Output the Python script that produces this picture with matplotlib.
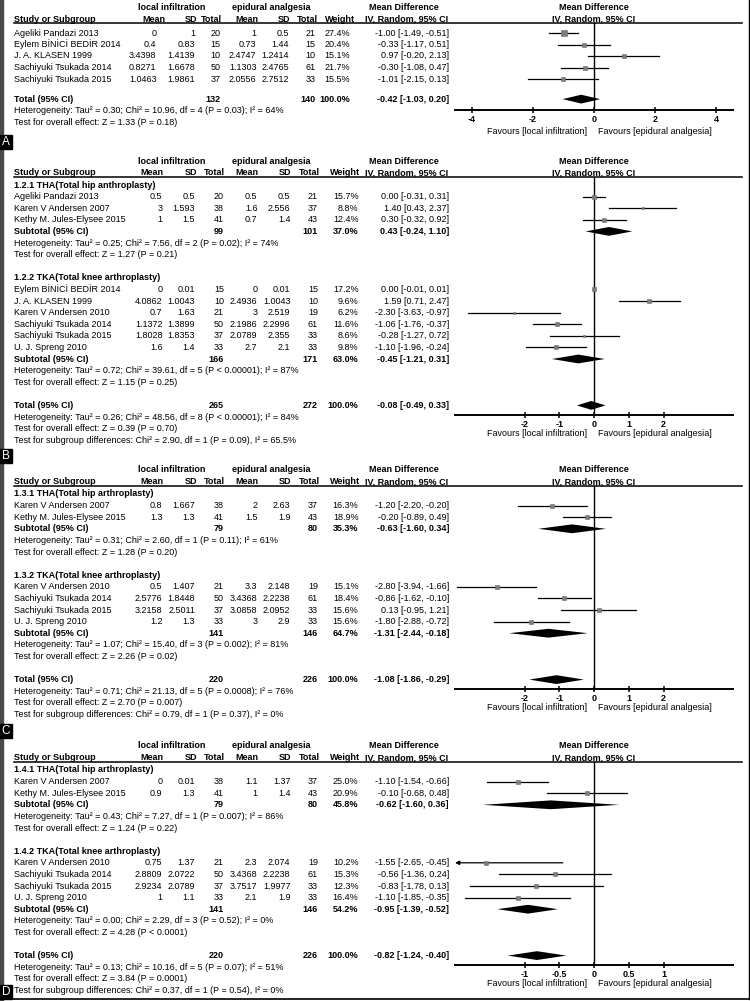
import numpy as np
import matplotlib
matplotlib.use("Agg")
import matplotlib.pyplot as plt
from matplotlib.patches import Polygon, Rectangle

plt.rcParams['font.family'] = ['Liberation Sans', 'DejaVu Sans']
plt.rcParams['axes.unicode_minus'] = False

W, H = 750, 1001
FS = 6.5

# ---------------- data ----------------
# panel A
a_names = ["Ageliki Pandazi 2013", "Eylem BİNİCİ BEDİR 2014", "J. A. KLASEN 1999",
           "Sachiyuki Tsukada 2014", "Sachiyuki Tsukada 2015"]
a_m1 = [0, 0.4, 3.4398, 0.8271, 1.0463]
a_sd1 = [1, 0.83, 1.4139, 1.6678, 1.9861]
a_n1 = [20, 15, 10, 50, 37]
a_m2 = [1, 0.73, 2.4747, 1.1303, 2.0556]
a_sd2 = [0.5, 1.44, 1.2414, 2.4765, 2.7512]
a_n2 = [21, 15, 10, 61, 33]
a_wt = [27.4, 20.4, 15.1, 21.7, 15.5]
a_md = [-1.00, -0.33, 0.97, -0.30, -1.01]
a_lo = [-1.49, -1.17, -0.20, -1.08, -2.15]
a_hi = [-0.51, 0.51, 2.13, 0.47, 0.13]
a_tot = [132, 140, -0.42, -1.03, 0.20]
a_tot_txt = ["Heterogeneity: Tau² = 0.30; Chi² = 10.96, df = 4 (P = 0.03); I² = 64%",
             "Test for overall effect: Z = 1.33 (P = 0.18)"]

# panel B
b_names = ["Ageliki Pandazi 2013", "Karen V Andersen 2007", "Kethy M. Jules-Elysee 2015",
           "Eylem BİNİCİ BEDİR 2014", "J. A. KLASEN 1999", "Karen V Andersen 2010",
           "Sachiyuki Tsukada 2014", "Sachiyuki Tsukada 2015", "U. J. Spreng 2010"]
b_grp = [0, 0, 0, 1, 1, 1, 1, 1, 1]
b_m1 = [0.5, 3, 1, 0, 4.0862, 0.7, 1.1372, 1.8028, 1.6]
b_sd1 = [0.5, 1.593, 1.5, 0.01, 1.0043, 1.63, 1.3899, 1.8353, 1.4]
b_n1 = [20, 38, 41, 15, 10, 21, 50, 37, 33]
b_m2 = [0.5, 1.6, 0.7, 0, 2.4936, 3, 2.1986, 2.0789, 2.7]
b_sd2 = [0.5, 2.556, 1.4, 0.01, 1.0043, 2.519, 2.2996, 2.355, 2.1]
b_n2 = [21, 37, 43, 15, 10, 19, 61, 33, 33]
b_wt = [15.7, 8.8, 12.4, 17.2, 9.6, 6.2, 11.6, 8.6, 9.8]
b_md = [0.00, 1.40, 0.30, 0.00, 1.59, -2.30, -1.06, -0.28, -1.10]
b_lo = [-0.31, 0.43, -0.32, -0.01, 0.71, -3.63, -1.76, -1.27, -1.96]
b_hi = [0.31, 2.37, 0.92, 0.01, 2.47, -0.97, -0.37, 0.72, -0.24]
b_sub_title = ["1.2.1 THA(Total hip anthroplasty)", "1.2.2 TKA(Total knee arthroplasty)"]
b_sub_n1 = [99, 166]
b_sub_n2 = [101, 171]
b_sub_wt = [37.0, 63.0]
b_sub_md = [0.43, -0.45]
b_sub_lo = [-0.24, -1.21]
b_sub_hi = [1.10, 0.31]
b_sub_het = ["Heterogeneity: Tau² = 0.25; Chi² = 7.56, df = 2 (P = 0.02); I² = 74%",
             "Heterogeneity: Tau² = 0.72; Chi² = 39.61, df = 5 (P < 0.00001); I² = 87%"]
b_sub_z = ["Test for overall effect: Z = 1.27 (P = 0.21)",
           "Test for overall effect: Z = 1.15 (P = 0.25)"]
b_tot = [265, 272, -0.08, -0.49, 0.33]
b_tot_txt = ["Heterogeneity: Tau² = 0.26; Chi² = 48.56, df = 8 (P < 0.00001); I² = 84%",
             "Test for overall effect: Z = 0.39 (P = 0.70)",
             "Test for subgroup differences: Chi² = 2.90, df = 1 (P = 0.09), I² = 65.5%"]

# panel C
c_names = ["Karen V Andersen 2007", "Kethy M. Jules-Elysee 2015", "Karen V Andersen 2010",
           "Sachiyuki Tsukada 2014", "Sachiyuki Tsukada 2015", "U. J. Spreng 2010"]
c_grp = [0, 0, 1, 1, 1, 1]
c_m1 = [0.8, 1.3, 0.5, 2.5776, 3.2158, 1.2]
c_sd1 = [1.667, 1.3, 1.407, 1.8448, 2.5011, 1.3]
c_n1 = [38, 41, 21, 50, 37, 33]
c_m2 = [2, 1.5, 3.3, 3.4368, 3.0858, 3]
c_sd2 = [2.63, 1.9, 2.148, 2.2238, 2.0952, 2.9]
c_n2 = [37, 43, 19, 61, 33, 33]
c_wt = [16.3, 18.9, 15.1, 18.4, 15.6, 15.6]
c_md = [-1.20, -0.20, -2.80, -0.86, 0.13, -1.80]
c_lo = [-2.20, -0.89, -3.94, -1.62, -0.95, -2.88]
c_hi = [-0.20, 0.49, -1.66, -0.10, 1.21, -0.72]
c_sub_title = ["1.3.1 THA(Total hip arthroplasty)", "1.3.2 TKA(Total knee arthroplasty)"]
c_sub_n1 = [79, 141]
c_sub_n2 = [80, 146]
c_sub_wt = [35.3, 64.7]
c_sub_md = [-0.63, -1.31]
c_sub_lo = [-1.60, -2.44]
c_sub_hi = [0.34, -0.18]
c_sub_het = ["Heterogeneity: Tau² = 0.31; Chi² = 2.60, df = 1 (P = 0.11); I² = 61%",
             "Heterogeneity: Tau² = 1.07; Chi² = 15.40, df = 3 (P = 0.002); I² = 81%"]
c_sub_z = ["Test for overall effect: Z = 1.28 (P = 0.20)",
           "Test for overall effect: Z = 2.26 (P = 0.02)"]
c_tot = [220, 226, -1.08, -1.86, -0.29]
c_tot_txt = ["Heterogeneity: Tau² = 0.71; Chi² = 21.13, df = 5 (P = 0.0008); I² = 76%",
             "Test for overall effect: Z = 2.70 (P = 0.007)",
             "Test for subgroup differences: Chi² = 0.79, df = 1 (P = 0.37), I² = 0%"]

# panel D
d_names = ["Karen V Andersen 2007", "Kethy M. Jules-Elysee 2015", "Karen V Andersen 2010",
           "Sachiyuki Tsukada 2014", "Sachiyuki Tsukada 2015", "U. J. Spreng 2010"]
d_grp = [0, 0, 1, 1, 1, 1]
d_m1 = [0, 0.9, 0.75, 2.8809, 2.9234, 1]
d_sd1 = [0.01, 1.3, 1.37, 2.0722, 2.0789, 1.1]
d_n1 = [38, 41, 21, 50, 37, 33]
d_m2 = [1.1, 1, 2.3, 3.4368, 3.7517, 2.1]
d_sd2 = [1.37, 1.4, 2.074, 2.2238, 1.9977, 1.9]
d_n2 = [37, 43, 19, 61, 33, 33]
d_wt = [25.0, 20.9, 10.2, 15.3, 12.3, 16.4]
d_md = [-1.10, -0.10, -1.55, -0.56, -0.83, -1.10]
d_lo = [-1.54, -0.68, -2.65, -1.36, -1.78, -1.85]
d_hi = [-0.66, 0.48, -0.45, 0.24, 0.13, -0.35]
d_sub_title = ["1.4.1 THA(Total hip arthroplasty)", "1.4.2 TKA(Total knee arthroplasty)"]
d_sub_n1 = [79, 141]
d_sub_n2 = [80, 146]
d_sub_wt = [45.8, 54.2]
d_sub_md = [-0.62, -0.95]
d_sub_lo = [-1.60, -1.39]
d_sub_hi = [0.36, -0.52]
d_sub_het = ["Heterogeneity: Tau² = 0.43; Chi² = 7.27, df = 1 (P = 0.007); I² = 86%",
             "Heterogeneity: Tau² = 0.00; Chi² = 2.29, df = 3 (P = 0.52); I² = 0%"]
d_sub_z = ["Test for overall effect: Z = 1.24 (P = 0.22)",
           "Test for overall effect: Z = 4.28 (P < 0.0001)"]
d_tot = [220, 226, -0.82, -1.24, -0.40]
d_tot_txt = ["Heterogeneity: Tau² = 0.13; Chi² = 10.16, df = 5 (P = 0.07); I² = 51%",
             "Test for overall effect: Z = 3.84 (P = 0.0001)",
             "Test for subgroup differences: Chi² = 0.37, df = 1 (P = 0.54), I² = 0%"]

# ---------------- layout ----------------
X_L, X_R = 455, 733
NAME_X = 14
CI_X = 449
COLS_A = [156.5, 195, 220.5, 256.5, 289, 315.5, 350]
HDR_A = [165.5, 197, 222, 258, 290, 317.5, 355.5]
COLS = [162.5, 195, 224, 257.5, 290.5, 318, 358.5]
HDR = [163.5, 197, 224.5, 258.5, 291, 320, 360.5]

fig = plt.figure(figsize=(W / 100, H / 100), dpi=100)
ax = fig.add_axes([0, 0, 1, 1])
ax.set_xlim(0, W)
ax.set_ylim(H, 0)
ax.axis('off')


def txt(x, y, s, ha='left', bold=False, size=FS, **kw):
    ax.text(x, y, s, ha=ha, va='center', fontsize=size,
            fontweight='bold' if bold else 'normal', **kw)


def ci_str(m, l, h):
    return "%.2f [%.2f, %.2f]" % (m, l, h)


def fmt(v):
    return "%g" % v


def draw_panel(line_y, items, ys, axis_y, xlim, ticks, ticklabels, cols, hdr,
               d, fav_off=19):
    x0 = X_L + (0 - xlim[0]) / (xlim[1] - xlim[0]) * (X_R - X_L)
    # headers
    h1, h2 = line_y - 15.5, line_y - 3.8
    txt(172, h1, "local infiltration", ha='center', bold=True)
    txt(271, h1, "epidural analgesia", ha='center', bold=True)
    txt(404, h1, "Mean Difference", ha='center', bold=True)
    txt(x0, h1, "Mean Difference", ha='center', bold=True)
    txt(NAME_X, h2, "Study or Subgroup", bold=True)
    for xc, s in zip(hdr, ["Mean", "SD", "Total", "Mean", "SD", "Total", "Weight"]):
        txt(xc, h2, s, ha='right', bold=True)
    txt(407, h2, "IV, Random, 95% CI", ha='center', bold=True)
    txt(x0, h2, "IV, Random, 95% CI", ha='center', bold=True)
    ax.plot([NAME_X, 742], [line_y, line_y], color='black', lw=1.1)

    fa = fig.add_axes([X_L / W, 1 - axis_y / H, (X_R - X_L) / W, (axis_y - line_y) / H])
    fa.set_xlim(*xlim)
    fa.set_ylim(axis_y, line_y)
    fa.patch.set_alpha(0)
    for s in ['top', 'left', 'right']:
        fa.spines[s].set_visible(False)
    fa.spines['bottom'].set_linewidth(1.4)
    fa.set_yticks([])
    fa.set_xticks(ticks)
    fa.set_xticklabels(ticklabels, fontweight='bold', fontsize=FS)
    fa.tick_params(axis='x', direction='inout', length=5, width=1.1, pad=1.2)
    fa.axvline(0, color='black', lw=1.0)

    def diamond(m, l, h, y):
        fa.add_patch(Polygon([(l, y), (m, y - 4.4), (h, y), (m, y + 4.4)],
                             closed=True, color='black', lw=0))

    for it, y in zip(items, ys):
        kind = it[0]
        if kind == 'blank':
            continue
        if kind == 'title':
            txt(NAME_X, y, d['sub_title'][it[1]], bold=True)
        elif kind == 'row':
            i = it[1]
            txt(NAME_X, y, d['names'][i])
            vals = [fmt(d['m1'][i]), fmt(d['sd1'][i]), str(d['n1'][i]), fmt(d['m2'][i]),
                    fmt(d['sd2'][i]), str(d['n2'][i]), "%.1f%%" % d['wt'][i]]
            for xc, s in zip(cols, vals):
                txt(xc, y, s, ha='right')
            txt(CI_X, y, ci_str(d['md'][i], d['lo'][i], d['hi'][i]), ha='right')
            lo, hi = d['lo'][i], d['hi'][i]
            if lo < xlim[0]:
                fa.annotate('', xy=(xlim[0], y), xytext=(hi, y),
                            arrowprops=dict(arrowstyle='-|>', lw=0.9, color='black',
                                            mutation_scale=6, shrinkA=0, shrinkB=0))
            else:
                fa.plot([lo, hi], [y, y], color='black', lw=0.9)
            fa.plot(d['md'][i], y, marker='s', ms=0.72 * np.sqrt(d['wt'][i]),
                    color='#7d7d7d', mec='#6a6a6a', mew=0.4, zorder=3)
        elif kind == 'sub':
            g = it[1]
            txt(NAME_X, y, "Subtotal (95% CI)", bold=True)
            txt(cols[2], y, str(d['sub_n1'][g]), ha='right', bold=True)
            txt(cols[5], y, str(d['sub_n2'][g]), ha='right', bold=True)
            txt(cols[6], y, "%.1f%%" % d['sub_wt'][g], ha='right', bold=True)
            txt(CI_X, y, ci_str(d['sub_md'][g], d['sub_lo'][g], d['sub_hi'][g]),
                ha='right', bold=True)
            diamond(d['sub_md'][g], d['sub_lo'][g], d['sub_hi'][g], y)
        elif kind == 'het':
            txt(NAME_X, y, d['sub_het'][it[1]])
        elif kind == 'z':
            txt(NAME_X, y, d['sub_z'][it[1]])
        elif kind == 'tot':
            t = d['tot']
            txt(NAME_X, y, "Total (95% CI)", bold=True)
            txt(cols[2], y, str(t[0]), ha='right', bold=True)
            txt(cols[5], y, str(t[1]), ha='right', bold=True)
            txt(cols[6], y, "100.0%", ha='right', bold=True)
            txt(CI_X, y, ci_str(t[2], t[3], t[4]), ha='right', bold=True)
            diamond(t[2], t[3], t[4], y)
        elif kind == 'ttxt':
            txt(NAME_X, y, d['tot_txt'][it[1]])

    txt(x0 - 7, axis_y + fav_off, "Favours [local infiltration]", ha='right')
    txt(x0 + 4, axis_y + fav_off, "Favours [epidural analgesia]", ha='left')


def positions(first, step, items, blank=1.0):
    ys, y = [], first
    for it in items:
        ys.append(y)
        y += step * (blank if it[0] == 'blank' else 1.0)
    return ys


def grouped_items(grp, ngroups, ntxt):
    items = []
    for g in range(ngroups):
        items.append(('title', g))
        items += [('row', i) for i, gg in enumerate(grp) if gg == g]
        items += [('sub', g), ('het', g), ('z', g), ('blank',)]
    items.append(('tot',))
    items += [('ttxt', k) for k in range(ntxt)]
    return items


def panel_label(y, s):
    ax.add_patch(Rectangle((0, y - 7), 12, 14, color='black', zorder=5))
    ax.text(6, y, s, ha='center', va='center', color='white', fontsize=8.5, zorder=6)


# ---- panel A ----
A = dict(names=a_names, m1=a_m1, sd1=a_sd1, n1=a_n1, m2=a_m2, sd2=a_sd2, n2=a_n2,
         wt=a_wt, md=a_md, lo=a_lo, hi=a_hi, tot=a_tot, tot_txt=a_tot_txt)
items_a = [('row', i) for i in range(len(a_names))] + [('blank',), ('tot',), ('ttxt', 0), ('ttxt', 1)]
ys_a = positions(33, 11.5, items_a, blank=0.75)
draw_panel(23, items_a, ys_a, 110, (-4.56, 4.56), [-4, -2, 0, 2, 4],
           ["-4", "-2", "0", "2", "4"], COLS_A, HDR_A, A, fav_off=21)
panel_label(142, "A")

# ---- panels B, C, D ----
panels = [
    (dict(names=b_names, m1=b_m1, sd1=b_sd1, n1=b_n1, m2=b_m2, sd2=b_sd2, n2=b_n2, wt=b_wt,
          md=b_md, lo=b_lo, hi=b_hi, sub_title=b_sub_title, sub_n1=b_sub_n1, sub_n2=b_sub_n2,
          sub_wt=b_sub_wt, sub_md=b_sub_md, sub_lo=b_sub_lo, sub_hi=b_sub_hi,
          sub_het=b_sub_het, sub_z=b_sub_z, tot=b_tot, tot_txt=b_tot_txt),
     b_grp, 185, (-4, 4), [-2, -1, 0, 1, 2], ["-2", "-1", "0", "1", "2"], 456, "B"),
    (dict(names=c_names, m1=c_m1, sd1=c_sd1, n1=c_n1, m2=c_m2, sd2=c_sd2, n2=c_n2, wt=c_wt,
          md=c_md, lo=c_lo, hi=c_hi, sub_title=c_sub_title, sub_n1=c_sub_n1, sub_n2=c_sub_n2,
          sub_wt=c_sub_wt, sub_md=c_sub_md, sub_lo=c_sub_lo, sub_hi=c_sub_hi,
          sub_het=c_sub_het, sub_z=c_sub_z, tot=c_tot, tot_txt=c_tot_txt),
     c_grp, 494, (-4, 4), [-2, -1, 0, 1, 2], ["-2", "-1", "0", "1", "2"], 731, "C"),
    (dict(names=d_names, m1=d_m1, sd1=d_sd1, n1=d_n1, m2=d_m2, sd2=d_sd2, n2=d_n2, wt=d_wt,
          md=d_md, lo=d_lo, hi=d_hi, sub_title=d_sub_title, sub_n1=d_sub_n1, sub_n2=d_sub_n2,
          sub_wt=d_sub_wt, sub_md=d_sub_md, sub_lo=d_sub_lo, sub_hi=d_sub_hi,
          sub_het=d_sub_het, sub_z=d_sub_z, tot=d_tot, tot_txt=d_tot_txt),
     d_grp, 770, (-2, 2), [-1, -0.5, 0, 0.5, 1], ["-1", "-0.5", "0", "0.5", "1"], 992, "D"),
]

for d, grp, first, xlim, ticks, tl, lab_y, lab in panels:
    items = grouped_items(grp, 2, 3)
    ys = positions(first, 11.6, items)
    tot_y = ys[[k for k, it in enumerate(items) if it[0] == 'tot'][0]]
    draw_panel(first - 8.5, items, ys, tot_y + 9.2, xlim, ticks, tl, COLS, HDR, d)
    panel_label(lab_y, lab)

# frame
ax.add_patch(Rectangle((0, 0), 2.6, H, color='#4a4a4a', zorder=4))
ax.plot([748.5, 748.5], [0, 998.5], color='black', lw=1.0)
ax.plot([0, 750], [998.5, 998.5], color='black', lw=1.2)

fig.savefig("out.png", dpi=100)
